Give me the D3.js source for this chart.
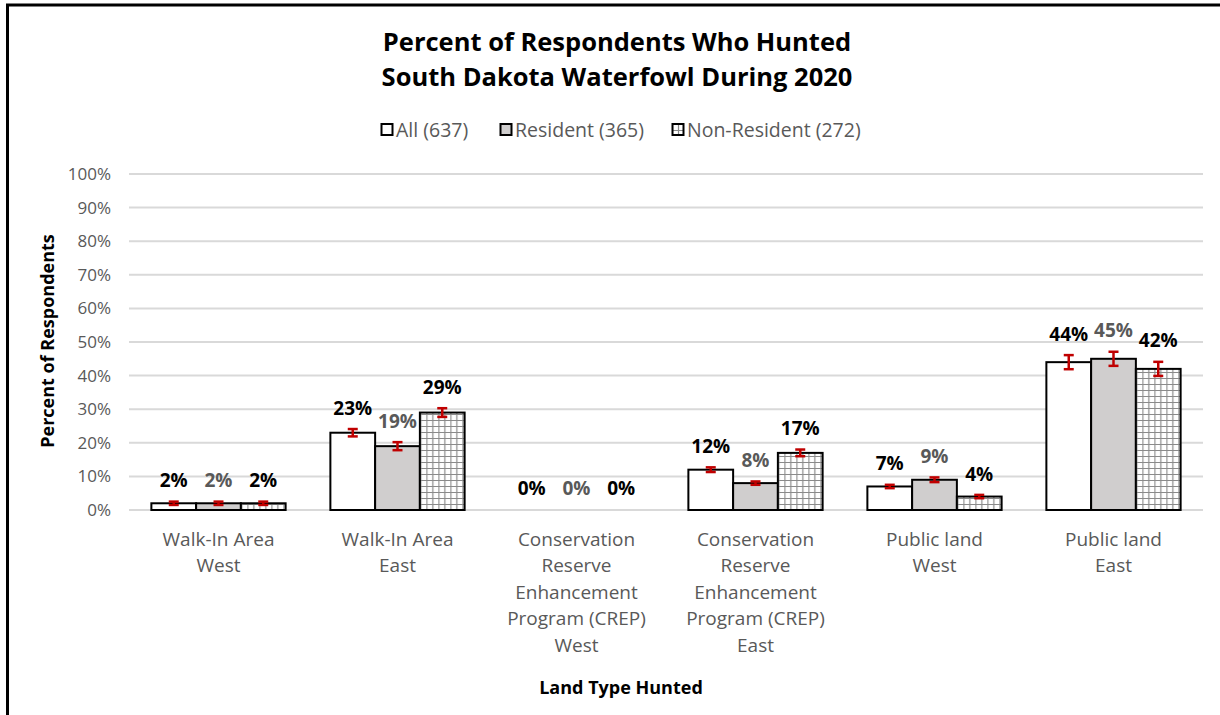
<!DOCTYPE html>
<html><head><meta charset="utf-8">
<script src="https://cdn.jsdelivr.net/npm/d3@7"></script>
<style>
html,body{margin:0;padding:0;background:#fff;}
svg{display:block;font-family:"Open Sans",sans-serif;}
</style></head>
<body>
<svg id="c" width="1220" height="715"></svg>
<script>
const categories = [
  ["Walk-In Area","West"],
  ["Walk-In Area","East"],
  ["Conservation","Reserve","Enhancement","Program (CREP)","West"],
  ["Conservation","Reserve","Enhancement","Program (CREP)","East"],
  ["Public land","West"],
  ["Public land","East"]
];
const seriesNames = ["All (637)","Resident (365)","Non-Resident (272)"];
const allValues = [2, 23, 0, 12, 7, 44];
const residentValues = [2, 19, 0, 8, 9, 45];
const nonResidentValues = [2, 29, 0, 17, 4, 42];
const allErr = [0.2, 0.8, 0, 0.4, 0.2, 1.8];
const residentErr = [0.2, 0.9, 0, 0.2, 0.4, 1.8];
const nonResidentErr = [0.2, 1.0, 0, 0.7, 0.2, 1.8];
const yTicks = [0,10,20,30,40,50,60,70,80,90,100];

const series = [
  {name: seriesNames[0], values: allValues, err: allErr},
  {name: seriesNames[1], values: residentValues, err: residentErr},
  {name: seriesNames[2], values: nonResidentValues, err: nonResidentErr}
];
const fills = ["#ffffff", "#d0cece", "url(#grid)"];
const labelColors = ["#000000", "#595959", "#000000"];

const svg = d3.select("#c");
const defs = svg.append("defs");
const pat = defs.append("pattern").attr("id","grid").attr("patternUnits","userSpaceOnUse")
  .attr("width",12).attr("height",12);
pat.append("rect").attr("width",12).attr("height",12).attr("fill","#fff");
pat.append("path").attr("d","M0,0.5H12M0,6.5H12M0.5,0V12M6.5,0V12").attr("stroke","#8a8a8a").attr("stroke-width",1.2).attr("fill","none");

// frame
svg.append("line").attr("x1",7.5).attr("x2",7.5).attr("y1",4).attr("y2",715).attr("stroke","#000").attr("stroke-width",3);
svg.append("line").attr("x1",6).attr("x2",1220).attr("y1",5).attr("y2",5).attr("stroke","#000").attr("stroke-width",3);

const pLeft = 129, pRight = 1203, pTop = 174, pBottom = 510;
const x0 = d3.scaleBand().domain(d3.range(categories.length)).range([pLeft, pRight]).paddingInner(0.25).paddingOuter(0.125);
const x1 = d3.scaleBand().domain(d3.range(series.length)).range([0, x0.bandwidth()]);
const y = d3.scaleLinear().domain([0,100]).range([pBottom, pTop]);

// gridlines
svg.append("g").selectAll("line").data(yTicks).join("line")
  .attr("x1", pLeft).attr("x2", pRight)
  .attr("y1", d => y(d)).attr("y2", d => y(d))
  .attr("stroke", "#d9d9d9").attr("stroke-width", 2);

// y axis labels
const yAxis = d3.axisLeft(y).tickValues(yTicks).tickFormat(d => d + "%").tickSize(0).tickPadding(0);
const yg = svg.append("g").attr("transform", `translate(${pLeft-18},0)`).call(yAxis);
yg.select(".domain").remove();
yg.selectAll("text").attr("font-size", 17).attr("fill", "#595959").attr("font-family","'Open Sans',sans-serif");

// bars
const groups = svg.append("g").selectAll("g").data(categories).join("g")
  .attr("transform", (d,i) => `translate(${x0(i)},0)`);
series.forEach((s, si) => {
  groups.each(function(d, ci){
    const g = d3.select(this);
    const v = s.values[ci];
    const cx = x1(si) + x1.bandwidth()/2;
    if (v > 0) {
      g.append("rect").attr("x", x1(si)).attr("width", x1.bandwidth())
        .attr("y", y(v)).attr("height", y(0) - y(v))
        .attr("fill", fills[si]).attr("stroke", "#000").attr("stroke-width", 2);
      const e = s.err[ci];
      const eg = g.append("g").attr("stroke", "#c00000").attr("stroke-width", 2.5);
      eg.append("line").attr("x1", cx).attr("x2", cx).attr("y1", y(v+e)-1).attr("y2", y(v-e)+1);
      eg.append("line").attr("x1", cx-5).attr("x2", cx+5).attr("y1", y(v+e)-1).attr("y2", y(v+e)-1);
      eg.append("line").attr("x1", cx-5).attr("x2", cx+5).attr("y1", y(v-e)+1).attr("y2", y(v-e)+1);
    }
    g.append("text").attr("x", cx).attr("y", y(s.values[ci] + s.err[ci]) - 22)
      .attr("dy", "0.35em").attr("text-anchor", "middle")
      .attr("font-size", 19).attr("font-weight", "bold").attr("fill", labelColors[si])
      .text(s.values[ci] + "%");
  });
});

// x category labels
groups.each(function(d, ci){
  const t = d3.select(this).append("text").attr("text-anchor","middle")
    .attr("font-size", 19).attr("fill", "#595959");
  d.forEach((line, li) => {
    t.append("tspan").attr("x", x0.bandwidth()/2).attr("y", 545.5 + li*26.5).text(line);
  });
});

// titles
const title = svg.append("text").attr("text-anchor","middle").attr("font-size",25.5).attr("font-weight","bold").attr("fill","#000");
title.append("tspan").attr("x", 617).attr("y", 51).text("Percent of Respondents Who Hunted");
title.append("tspan").attr("x", 617).attr("y", 86).text("South Dakota Waterfowl During 2020");

svg.append("text").attr("x", 621).attr("y", 694).attr("text-anchor","middle")
  .attr("font-size",18).attr("font-weight","bold").attr("fill","#000").text("Land Type Hunted");
svg.append("text").attr("transform","translate(54,341) rotate(-90)").attr("text-anchor","middle")
  .attr("font-size",18).attr("font-weight","bold").attr("fill","#000").text("Percent of Respondents");

// legend
const legendX = [381, 500, 672];
const lg = svg.append("g").selectAll("g").data(series).join("g")
  .attr("transform", (d,i) => `translate(${legendX[i]},124)`);
lg.append("rect").attr("x",0.5).attr("y",0).attr("width",11).attr("height",11)
  .attr("fill",(d,i)=> i==2 ? "url(#grid)" : fills[i]).attr("stroke","#000").attr("stroke-width",2);
lg.append("text").attr("x",15).attr("y",6).attr("dy","0.35em").attr("font-size",19.5).attr("fill","#595959").text(d=>d.name);
</script>
</body></html>
